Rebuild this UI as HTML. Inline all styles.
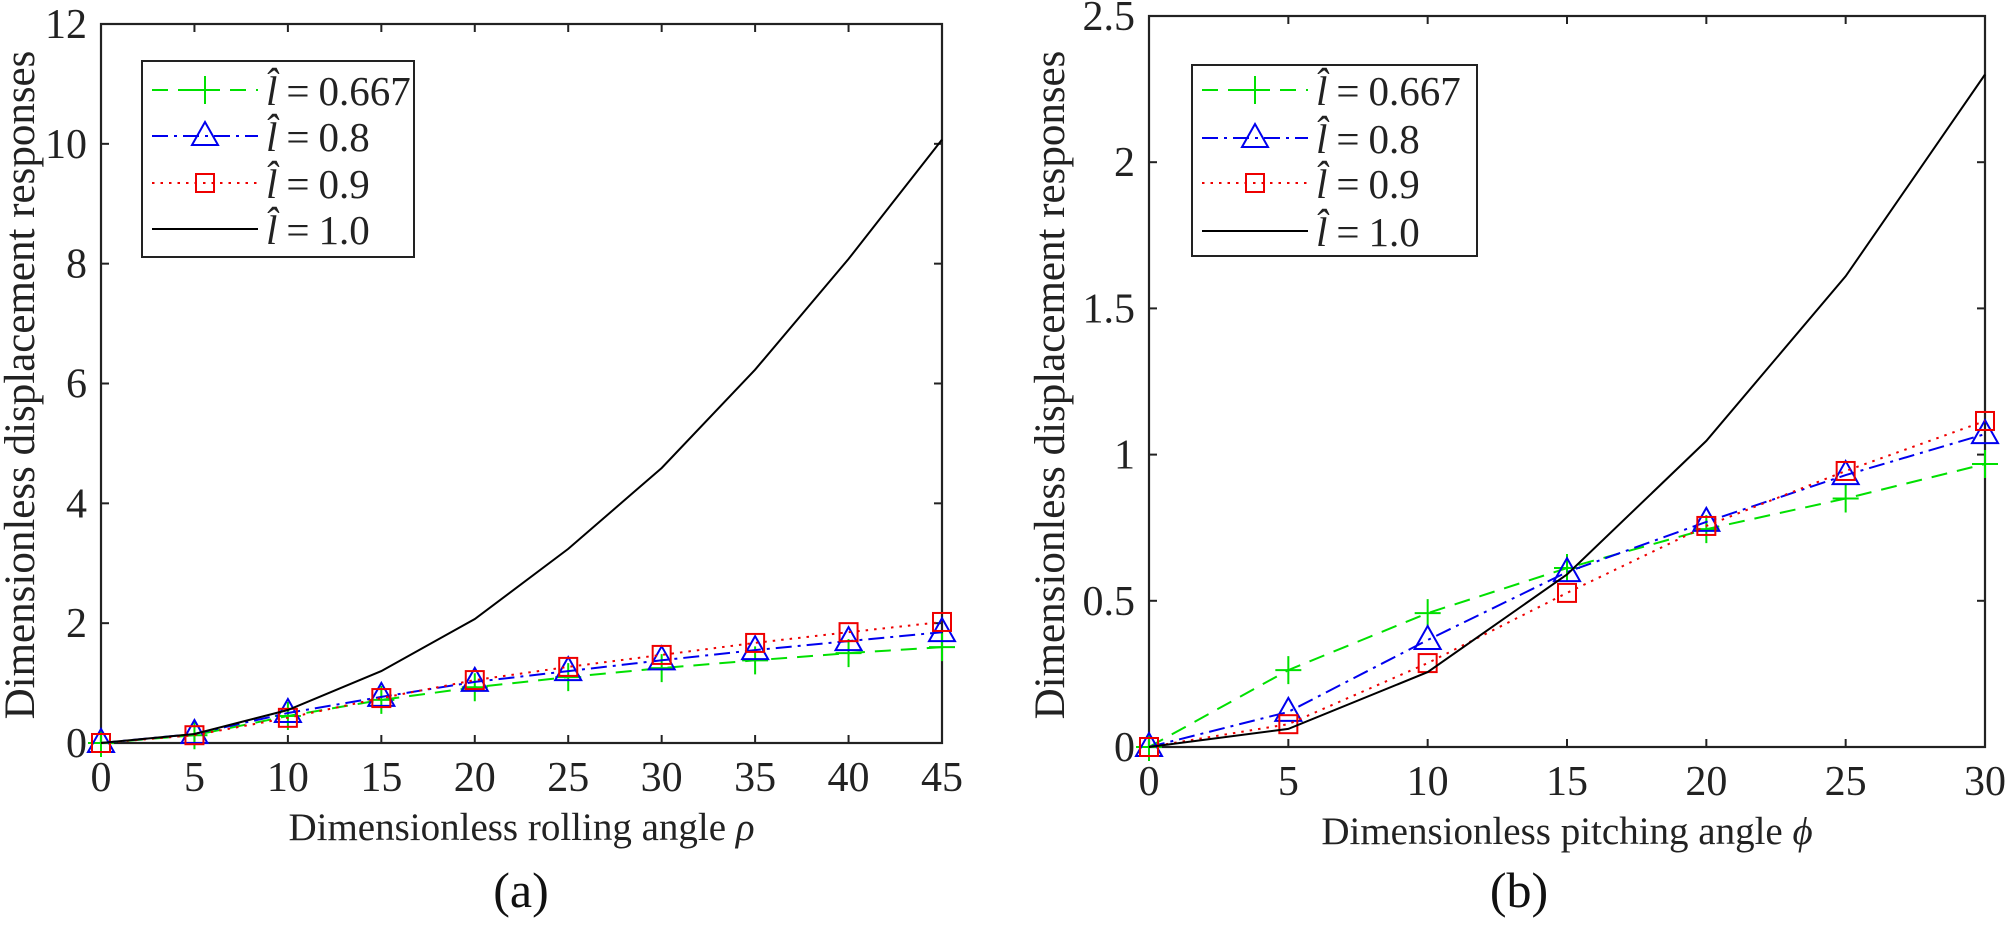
<!DOCTYPE html>
<html><head><meta charset="utf-8"><style>
html,body{margin:0;padding:0;background:#fff;}
svg{display:block;font-family:"Liberation Serif",serif;}
</style></head><body>
<svg id="s" width="2007" height="927" xmlns="http://www.w3.org/2000/svg"></svg>
<script>
const s=document.getElementById('s');
let h='';
function plot(o){
  const {x0,x1,y0,y1,xmax,ymax,xt,yt,ytl,data,leg,xlab,ylx,yly,cap,capx}=o;
  const X=v=>x0+(x1-x0)*v/xmax, Y=v=>y0-(y0-y1)*v/ymax;
  h+=`<rect x="${x0}" y="${y1}" width="${x1-x0}" height="${y0-y1}" fill="none" stroke="#222" stroke-width="2.2"/>`;
  xt.forEach(v=>{const x=X(v);h+=`<line x1="${x}" y1="${y0}" x2="${x}" y2="${y0-8}" stroke="#222" stroke-width="2"/><line x1="${x}" y1="${y1}" x2="${x}" y2="${y1+8}" stroke="#222" stroke-width="2"/>`;
    h+=`<text x="${x}" y="${y0+48}" font-size="42" text-anchor="middle" fill="#222">${v}</text>`;});
  yt.forEach((v,i)=>{const y=Y(v);h+=`<line x1="${x0}" y1="${y}" x2="${x0+8}" y2="${y}" stroke="#222" stroke-width="2"/><line x1="${x1}" y1="${y}" x2="${x1-8}" y2="${y}" stroke="#222" stroke-width="2"/>`;
    h+=`<text x="${x0-14}" y="${y+14}" font-size="42" text-anchor="end" fill="#222">${ytl[i]}</text>`;});
  h+=`<text x="${(x0+x1)/2}" y="${y0+97}" font-size="39" text-anchor="middle" fill="#222">${xlab}</text>`;
  h+=`<text transform="translate(${ylx},${yly}) rotate(-90)" font-size="43" text-anchor="middle" fill="#222">Dimensionless displacement responses</text>`;
  h+=`<text x="${capx}" y="907" font-size="50" text-anchor="middle" fill="#111">${cap}</text>`;
  const st=[
    {c:'#00e000',d:'16,10',m:'plus'},
    {c:'#0000ee',d:'16,6,3,6',m:'tri'},
    {c:'#ee0000',d:'2.5,6',m:'sq'},
    {c:'#000',d:'',m:''}];
  function mk(t,x,y,c){
    if(t=='plus')return `<path d="M${x-13},${y}H${x+13}M${x},${y-14}V${y+14}" stroke="${c}" stroke-width="2"/>`;
    if(t=='tri')return `<path d="M${x},${y-14}L${x+13},${y+9}H${x-13}Z" fill="none" stroke="${c}" stroke-width="2"/>`;
    if(t=='sq')return `<rect x="${x-9}" y="${y-9}" width="18" height="18" fill="none" stroke="${c}" stroke-width="2"/>`;
    return '';
  }
  data.forEach((d,k)=>{const S=st[k];
    const pts=d.map((v,i)=>X(i*5).toFixed(1)+','+Y(v).toFixed(1)).join(' ');
    h+=`<polyline points="${pts}" fill="none" stroke="${S.c}" stroke-width="2" ${S.d?`stroke-dasharray="${S.d}"`:''}/>`;
    d.forEach((v,i)=>h+=mk(S.m,X(i*5),Y(v),S.c));
  });
  const [lx,ly,lw,lh,ys]=leg;
  h+=`<rect x="${lx}" y="${ly}" width="${lw}" height="${lh}" fill="#fff" stroke="#222" stroke-width="2"/>`;
  const labs=['0.667','0.8','0.9','1.0'];
  ys.forEach((y,k)=>{const S=st[k];
    h+=`<line x1="${lx+10}" y1="${y}" x2="${lx+116}" y2="${y}" stroke="${S.c}" stroke-width="2" ${S.d?`stroke-dasharray="${S.d}"`:''}/>`;
    h+=mk(S.m,lx+63,y,S.c);
    h+=`<text x="${lx+124}" y="${y+15}" font-size="41" fill="#222"><tspan font-style="italic">l̂</tspan><tspan dx="9">=</tspan><tspan dx="9">${labs[k]}</tspan></text>`;
  });
}
plot({x0:101,x1:942,y0:743,y1:24,xmax:45,ymax:12,xt:[0,5,10,15,20,25,30,35,40,45],
  yt:[0,2,4,6,8,10,12],ytl:['0','2','4','6','8','10','12'],
  data:[[0,0.13,0.45,0.72,0.93,1.1,1.25,1.38,1.5,1.6],
        [0,0.15,0.5,0.77,1.02,1.2,1.38,1.55,1.7,1.85],
        [0,0.13,0.42,0.75,1.05,1.27,1.47,1.67,1.85,2.02],
        [0,0.15,0.55,1.2,2.07,3.24,4.59,6.23,8.08,10.07]],
  leg:[142,61,272,196,[90,136,183,229]],
  xlab:'Dimensionless rolling angle <tspan font-style="italic">ρ</tspan>',ylx:34,yly:385,cap:'(a)',capx:521});
plot({x0:1149,x1:1985,y0:747,y1:16,xmax:30,ymax:2.5,xt:[0,5,10,15,20,25,30],
  yt:[0,0.5,1,1.5,2,2.5],ytl:['0','0.5','1','1.5','2','2.5'],
  data:[[0,0.263,0.458,0.612,0.745,0.85,0.968],
        [0,0.12,0.366,0.598,0.77,0.93,1.07],
        [0,0.078,0.287,0.527,0.756,0.944,1.115],
        [0,0.062,0.256,0.59,1.047,1.61,2.30]],
  leg:[1192,65,285,191,[90,138,183,231]],
  xlab:'Dimensionless pitching angle <tspan font-style="italic">ϕ</tspan>',ylx:1064,yly:385,cap:'(b)',capx:1519});
s.innerHTML=h;
</script>
</body></html>
